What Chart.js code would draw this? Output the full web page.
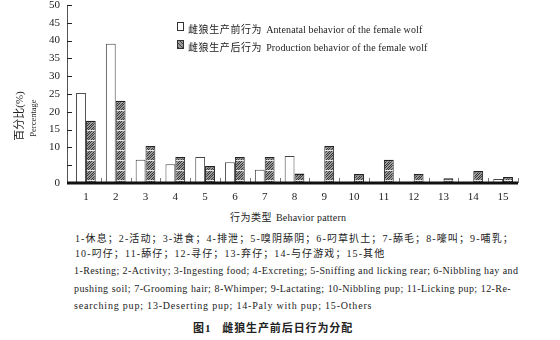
<!DOCTYPE html>
<html>
<head>
<meta charset="utf-8">
<script src="https://cdn.jsdelivr.net/npm/chart.js@4/dist/chart.umd.min.js"></script>
<style>
    html, body { margin: 0; padding: 0; background: #fff; }
    body { width: 560px; height: 340px; position: relative; overflow: hidden; color: #222; }
    #chart-box { position: absolute; left: 0; top: 0; width: 560px; height: 205px; }
    .t { position: absolute; white-space: nowrap; font-family: 'Liberation Serif', 'Noto Sans CJK SC', serif; }
    .cn { font-family: 'Liberation Serif', 'Noto Sans CJK SC', sans-serif; }
    .swatch { position: absolute; width: 5px; height: 7px; border: 1px solid #333; background: #fff; }
    .hatch { background: repeating-linear-gradient(45deg, #444 0 1px, #9a9a9a 1px 3px); }
</style>
</head>
<body>
<div id="chart-box"><canvas id="wolfChart" width="560" height="205"></canvas></div>

<!-- legend -->
<div class="swatch" style="left:177px; top:22px;"></div>
<div class="t" style="left:188px; top:22px; line-height:12px;">
    <span class="cn" style="font-size:10px; letter-spacing:0.6px;">雌狼生产前行为</span>
    <span style="font-size:10px; letter-spacing:0.1px;">Antenatal behavior of the female wolf</span>
</div>
<div class="swatch hatch" style="left:177px; top:40px;"></div>
<div class="t" style="left:188px; top:40px; line-height:12px;">
    <span class="cn" style="font-size:10px; letter-spacing:0.6px;">雌狼生产后行为</span>
    <span style="font-size:10px; letter-spacing:0.1px;">Production behavior of the female wolf</span>
</div>

<!-- y axis title -->
<div class="t cn" style="left:18px; top:116px; font-size:11px; transform:translate(-50%,-50%) rotate(-90deg);">百分比(%)</div>
<div class="t" style="left:33px; top:118px; font-size:8.5px; transform:translate(-50%,-50%) rotate(-90deg);">Percentage</div>

<!-- x axis title -->
<div class="t" style="left:230px; top:209px; line-height:14px;">
    <span class="cn" style="font-size:10px; letter-spacing:0.5px;">行为类型</span>
    <span style="font-size:10px; letter-spacing:0.2px;">Behavior pattern</span>
</div>

<!-- notes -->
<div class="t cn" style="left:75px; top:232px; font-size:10px; line-height:14px; letter-spacing:1.1px;">1-休息；2-活动；3-进食；4-排泄；5-嗅阴舔阴；6-叼草扒土；7-舔毛；8-嚎叫；9-哺乳；</div>
<div class="t cn" style="left:75px; top:247px; font-size:10px; line-height:14px; letter-spacing:1.1px;">10-叼仔；11-舔仔；12-寻仔；13-弃仔；14-与仔游戏；15-其他</div>
<div class="t" style="left:74px; top:264px; width:437px; font-size:10px; letter-spacing:0.4px; line-height:14px; text-align:justify; text-align-last:justify;">1-Resting; 2-Activity; 3-Ingesting food; 4-Excreting; 5-Sniffing and licking rear; 6-Nibbling hay and</div>
<div class="t" style="left:74px; top:282px; width:437px; font-size:10px; letter-spacing:0.4px; line-height:14px; text-align:justify; text-align-last:justify;">pushing soil; 7-Grooming hair; 8-Whimper; 9-Lactating; 10-Nibbling pup; 11-Licking pup; 12-Re-</div>
<div class="t" style="left:74px; top:299px; font-size:10px; letter-spacing:0.8px; line-height:14px;">searching pup; 13-Deserting pup; 14-Paly with pup; 15-Others</div>
<div class="t cn" style="left:193px; top:320px; font-size:11px; line-height:16px; letter-spacing:0.9px; font-weight:bold;">图1&nbsp;&nbsp;&nbsp;雌狼生产前后日行为分配</div>

<script>
const categories = ['1', '2', '3', '4', '5', '6', '7', '8', '9', '10', '11', '12', '13', '14', '15'];
const antenatal = [25.3, 39.1, 6.5, 5.3, 7.3, 5.8, 3.7, 7.6, 0, 0, 0, 0, 0, 0, 1.1];
const production = [17.5, 23.1, 10.4, 7.3, 4.8, 7.3, 7.3, 2.7, 10.4, 2.5, 6.5, 2.5, 1.3, 3.4, 1.7];
const yTicks = [0, 5, 10, 15, 20, 25, 30, 35, 40, 45, 50];
const seriesNames = ['雌狼生产前行为 Antenatal behavior of the female wolf', '雌狼生产后行为 Production behavior of the female wolf'];

// hatched fill: grey with dark diagonals and a pale line every 10px
function makeHatch() {
    const c = document.createElement('canvas');
    c.width = 5;
    c.height = 10;
    const g = c.getContext('2d');
    for (let y = 0; y < 10; y++) {
        for (let x = 0; x < 5; x++) {
            if (y === 0) g.fillStyle = '#e8e8e8';
            else if ((x + y) % 5 === 0 || (x + y) % 5 === 2) g.fillStyle = '#3a3a3a';
            else g.fillStyle = '#9a9a9a';
            g.fillRect(x, y, 1, 1);
        }
    }
    return g.createPattern(c, 'repeat');
}

// axis lines and the inward tick marks of the original figure
const axisMarks = {
    id: 'axisMarks',
    afterDatasetsDraw(chart) {
        const ctx = chart.ctx;
        const area = chart.chartArea;
        const x = chart.scales.x;
        const y = chart.scales.y;
        const axisX = area.left - 4;
        ctx.save();
        ctx.strokeStyle = '#555';
        ctx.lineWidth = 1;
        ctx.beginPath();
        ctx.moveTo(axisX + 0.5, y.getPixelForValue(50));
        ctx.lineTo(axisX + 0.5, area.bottom);
        ctx.stroke();

        ctx.strokeStyle = '#222';
        yTicks.forEach(v => {
            const py = Math.round(y.getPixelForValue(v)) + 0.5;
            ctx.beginPath();
            ctx.moveTo(axisX, py);
            ctx.lineTo(axisX + 5, py);
            ctx.stroke();
        });

        ctx.strokeStyle = '#777';
        for (let i = 0; i < categories.length; i++) {
            const px = Math.round((x.getPixelForValue(i) + x.getPixelForValue(i + 1)) / 2) + 0.5;
            ctx.beginPath();
            ctx.moveTo(px, area.bottom);
            ctx.lineTo(px, area.bottom - 5);
            ctx.stroke();
        }

        ctx.strokeStyle = '#111';
        ctx.lineWidth = 3;
        ctx.beginPath();
        ctx.moveTo(axisX, area.bottom);
        ctx.lineTo(area.right, area.bottom);
        ctx.stroke();
        ctx.restore();
    }
};

document.addEventListener('DOMContentLoaded', () => {
    const ctx = document.getElementById('wolfChart').getContext('2d');
    new Chart(ctx, {
        type: 'bar',
        data: {
            labels: categories,
            datasets: [
                {
                    label: seriesNames[0],
                    data: antenatal,
                    backgroundColor: '#ffffff',
                    borderColor: '#444',
                    borderWidth: { top: 1, left: 1, right: 1, bottom: 0 },
                    borderSkipped: false
                },
                {
                    label: seriesNames[1],
                    data: production,
                    backgroundColor: makeHatch(),
                    borderColor: '#222',
                    borderWidth: { top: 1.5, left: 1, right: 1, bottom: 0 },
                    borderSkipped: false
                }
            ]
        },
        options: {
            responsive: false,
            animation: false,
            devicePixelRatio: 1,
            layout: { padding: { left: 0, right: 42, top: 0, bottom: 0 } },
            datasets: {
                bar: { categoryPercentage: 0.66, barPercentage: 1.0 }
            },
            scales: {
                x: {
                    grid: { display: false, drawTicks: false },
                    border: { display: false },
                    ticks: {
                        color: '#222',
                        padding: 8,
                        font: { family: 'Liberation Serif', size: 11 },
                        maxRotation: 0,
                        autoSkip: false
                    },
                    afterFit: scale => { scale.height = 22; }
                },
                y: {
                    min: 0,
                    max: 50,
                    grid: { display: false, drawTicks: false },
                    border: { display: false },
                    afterBuildTicks: scale => { scale.ticks = yTicks.map(v => ({ value: v })); },
                    ticks: {
                        color: '#222',
                        padding: 11,
                        font: { family: 'Liberation Serif', size: 11, lineHeight: 1 },
                        callback: v => (v === 5 ? '' : v)
                    },
                    afterFit: scale => {
                        scale.width = 71;
                        scale.paddingTop = 5;
                        scale.paddingBottom = 0;
                    }
                }
            },
            plugins: {
                legend: { display: false },
                tooltip: { enabled: false }
            }
        },
        plugins: [axisMarks]
    });
});
</script>
</body>
</html>
